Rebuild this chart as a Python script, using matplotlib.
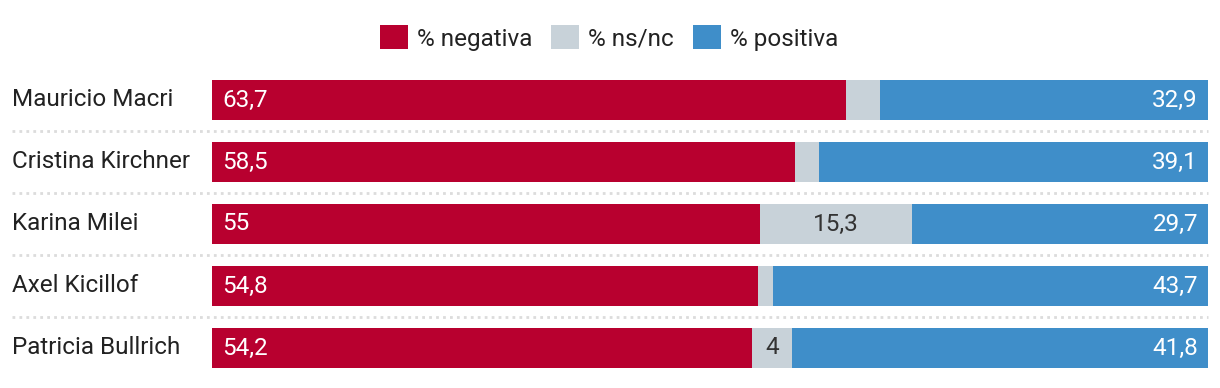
import matplotlib
matplotlib.use("Agg")
import matplotlib.pyplot as plt
from matplotlib.patches import Patch
from matplotlib.transforms import blended_transform_factory

# datos
nombres = ["Mauricio Macri", "Cristina Kirchner", "Karina Milei",
           "Axel Kicillof", "Patricia Bullrich"]
negativa = [63.7, 58.5, 55.0, 54.8, 54.2]
nsnc = [3.4, 2.4, 15.3, 1.5, 4.0]
positiva = [32.9, 39.1, 29.7, 43.7, 41.8]

series = ["% negativa", "% ns/nc", "% positiva"]
colores = ["#b8002f", "#c8d2d9", "#3f8ec9"]

plt.rcParams['font.family'] = ['Roboto', 'DejaVu Sans']
FS = 17.5


def fmt(v):
    s = f"{v:.1f}".replace(".", ",")
    return s[:-2] if s.endswith(",0") else s


W, H = 1220, 388
fig = plt.figure(figsize=(W / 100, H / 100), dpi=100)
ax = fig.add_axes([212 / W, 9 / H, 996 / W, 310 / H])

y = list(range(len(nombres)))
alto = 40 / 62
ax.barh(y, negativa, height=alto, color=colores[0])
ax.barh(y, nsnc, left=negativa, height=alto, color=colores[1])
izq = [a + b for a, b in zip(negativa, nsnc)]
ax.barh(y, positiva, left=izq, height=alto, color=colores[2])

ax.set_xlim(0, 100)
ax.set_ylim(len(nombres) - 0.5, -0.5)
ax.axis("off")

pad = 10 / 996 * 100
for i in y:
    ax.text(pad, i, fmt(negativa[i]), color="white", fontsize=FS,
            va="center", ha="left")
    if nsnc[i] >= 4:
        ax.text(negativa[i] + nsnc[i] / 2, i, fmt(nsnc[i]), color="#333333",
                fontsize=FS, va="center", ha="center")
    ax.text(100 - pad, i, fmt(positiva[i]), color="white", fontsize=FS,
            va="center", ha="right")

# nombres y separadores punteados
tr = blended_transform_factory(fig.transFigure, ax.transData)
for i, n in enumerate(nombres):
    ax.text(12 / W, i, n, transform=tr, fontsize=FS, color="#222222",
            va="center", ha="left")
for i in range(len(nombres) - 1):
    ax.plot([12 / W, 1208 / W], [i + 0.5, i + 0.5], transform=tr,
            color="#dcdcdc", lw=2, ls=(0, (1, 1.5)), clip_on=False)

handles = [Patch(facecolor=c, edgecolor="none") for c in colores]
fig.legend(handles, series, loc="center", bbox_to_anchor=(609 / W, 1 - 38 / H),
           ncol=3, frameon=False, fontsize=FS, handlelength=1.15,
           handleheight=1.15, handletextpad=0.35, columnspacing=0.8,
           labelcolor="#222222")

fig.savefig("out.png", dpi=100)
